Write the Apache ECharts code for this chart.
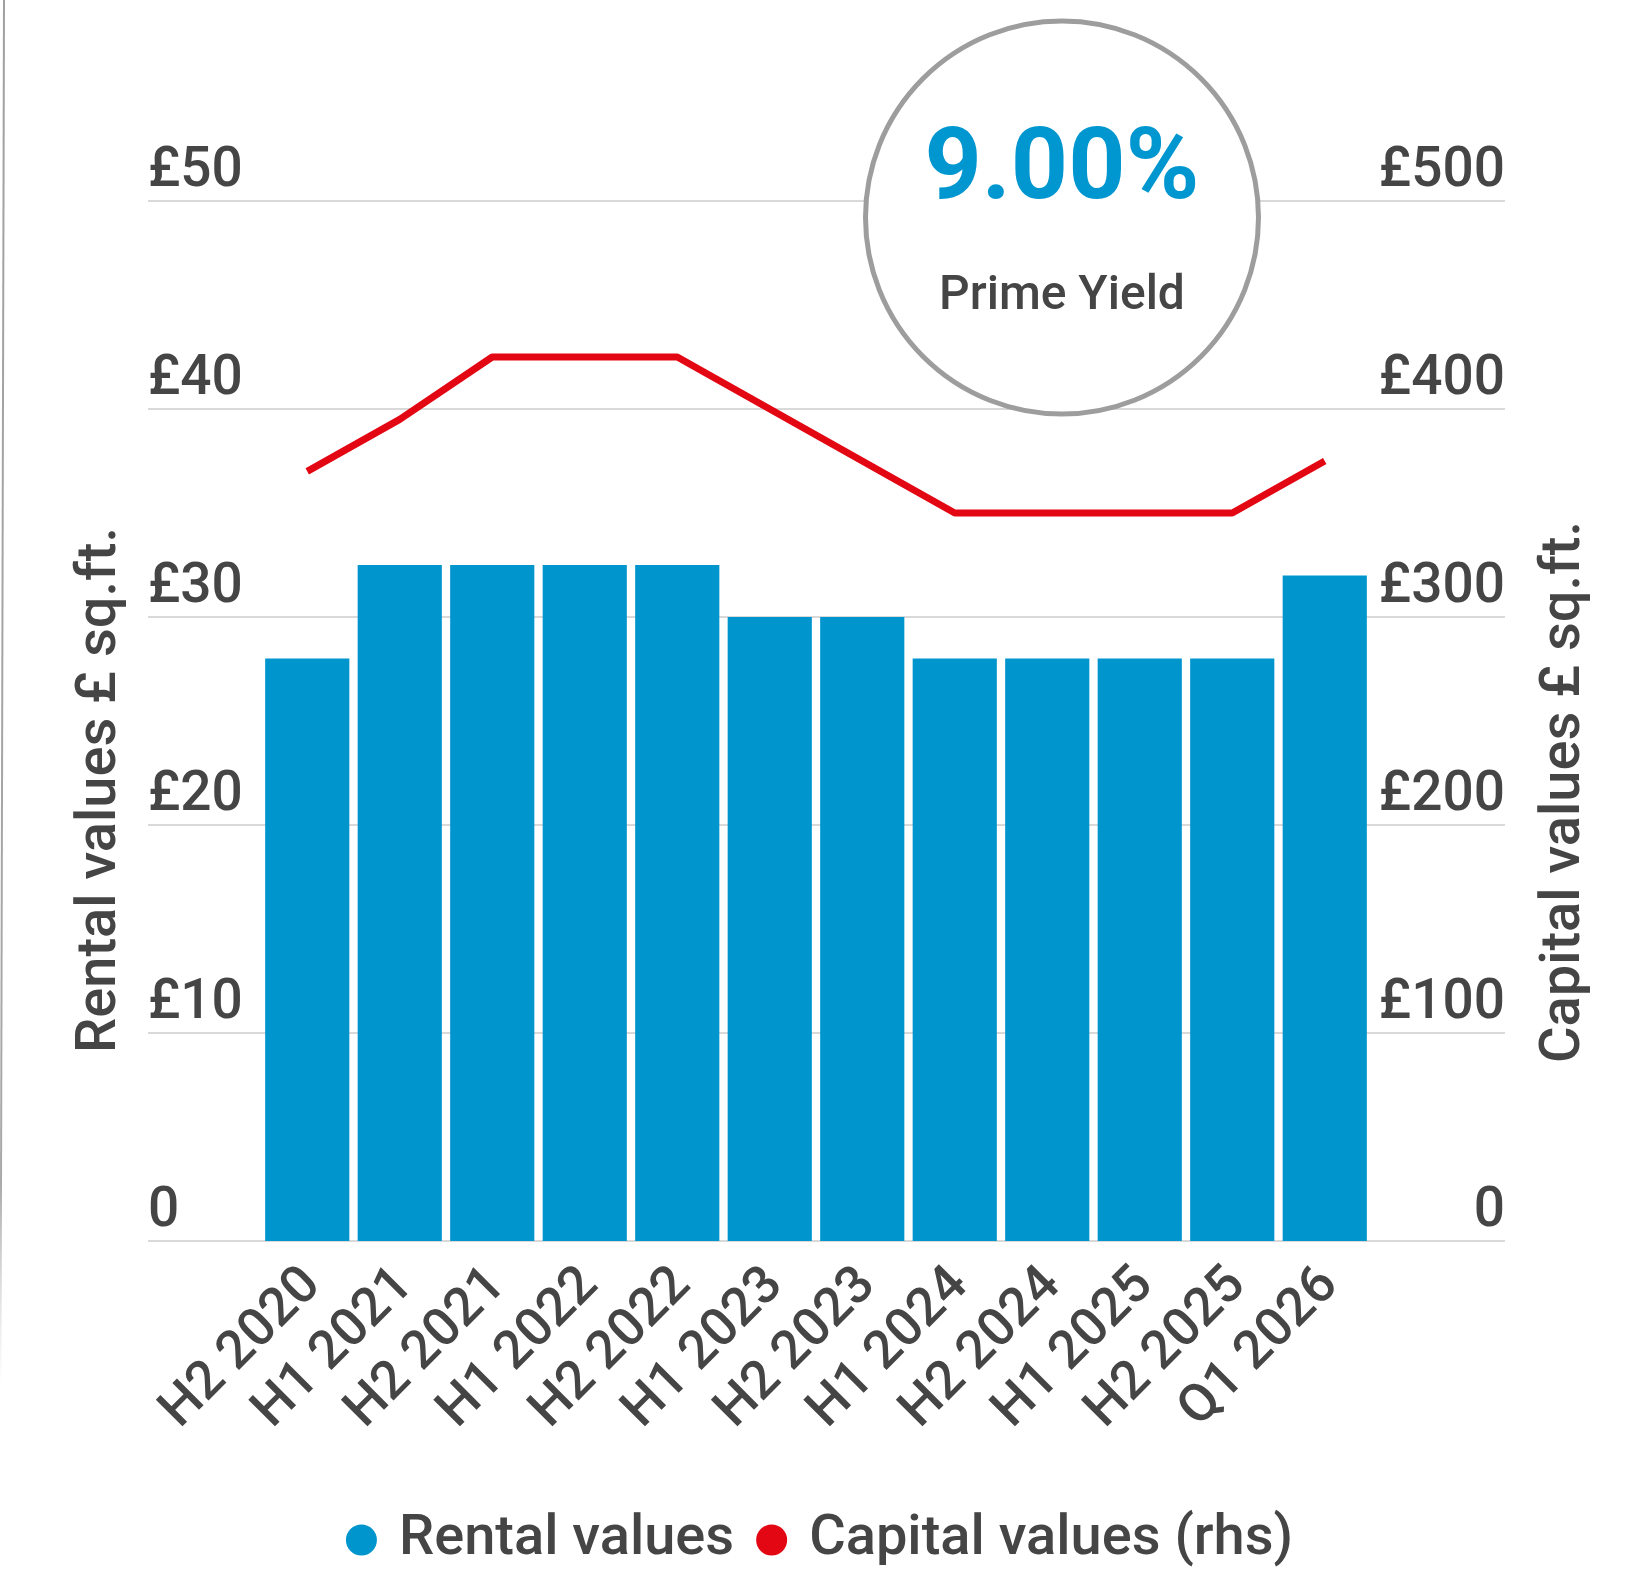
<!DOCTYPE html>
<html>
<head>
<meta charset="utf-8">
<script src="https://cdn.jsdelivr.net/npm/echarts@6/dist/echarts.min.js"></script>
<style>
  html, body { margin: 0; padding: 0; background: #fff; }
  #chart { width: 1639px; height: 1569px; }
</style>
</head>
<body>
<div id="chart"></div>
<script>
// data
const categories = ['H2 2020', 'H1 2021', 'H2 2021', 'H1 2022', 'H2 2022', 'H1 2023',
  'H2 2023', 'H1 2024', 'H2 2024', 'H1 2025', 'H2 2025', 'Q1 2026']
const rentalValues = [28, 32.5, 32.5, 32.5, 32.5, 30, 30, 28, 28, 28, 28, 32]
const capitalValues = [370, 395, 425, 425, 425, 400, 375, 350, 350, 350, 350, 375]
const rentalTicks = [0, 10, 20, 30, 40, 50]
const capitalTicks = [0, 100, 200, 300, 400, 500]
const primeYield = '9.00%'

const textGrey = '#454545'
const blue = '#0096cd'
const red = '#e30613'
const font = 'Roboto'

const fmt = v => (v === 0 ? '0' : '£' + v)

const chart = echarts.init(document.getElementById('chart'))

// grid 0 carries the gridlines and tick labels, grid 1 the bars and line
const gridTop = 201
const gridBottom = 1569 - 1241

const option = {
  animation: false,
  textStyle: { fontFamily: font },
  grid: [
    { left: 148, right: 134, top: gridTop, bottom: gridBottom },
    { left: 261, right: 268, top: gridTop, bottom: gridBottom },
  ],
  xAxis: [
    { type: 'category', gridIndex: 0, data: categories, show: false },
    {
      type: 'category',
      gridIndex: 1,
      data: categories,
      axisLine: { show: false },
      axisTick: { show: false },
      axisLabel: {
        interval: 0,
        rotate: 45,
        margin: 42,
        fontSize: 53,
        fontWeight: 500,
        fontFamily: font,
        color: textGrey,
        padding: [0, -8, 0, 0],
      },
    },
  ],
  yAxis: [
    {
      type: 'value',
      gridIndex: 0,
      position: 'left',
      min: rentalTicks[0],
      max: rentalTicks[rentalTicks.length - 1],
      interval: rentalTicks[1] - rentalTicks[0],
      axisLine: { show: false },
      axisTick: { show: false },
      splitLine: { lineStyle: { color: '#d9d9d9', width: 2 } },
      axisLabel: {
        inside: true,
        margin: 0,
        align: 'left',
        verticalAlign: 'bottom',
        lineHeight: 57,
        fontSize: 55,
        fontWeight: 500,
        fontFamily: font,
        color: textGrey,
        formatter: fmt,
      },
    },
    {
      type: 'value',
      gridIndex: 0,
      position: 'right',
      min: capitalTicks[0],
      max: capitalTicks[capitalTicks.length - 1],
      interval: capitalTicks[1] - capitalTicks[0],
      axisLine: { show: false },
      axisTick: { show: false },
      splitLine: { show: false },
      axisLabel: {
        inside: true,
        margin: 0,
        align: 'right',
        verticalAlign: 'bottom',
        lineHeight: 57,
        fontSize: 55,
        fontWeight: 500,
        fontFamily: font,
        color: textGrey,
        formatter: fmt,
      },
    },
    {
      type: 'value', gridIndex: 1, show: false,
      min: rentalTicks[0], max: rentalTicks[rentalTicks.length - 1],
    },
    {
      type: 'value', gridIndex: 1, show: false, position: 'right',
      min: capitalTicks[0], max: capitalTicks[capitalTicks.length - 1],
    },
  ],
  legend: {
    data: ['Rental values', 'Capital values (rhs)'],
    left: 'center',
    top: 1507,
    icon: 'circle',
    itemWidth: 31,
    itemHeight: 31,
    itemGap: 22,
    textStyle: {
      fontSize: 56,
      fontWeight: 500,
      fontFamily: font,
      color: textGrey,
      padding: [0, 0, 0, 17],
    },
  },
  series: [
    {
      name: 'Rental values',
      type: 'bar',
      xAxisIndex: 1,
      yAxisIndex: 2,
      data: rentalValues,
      barCategoryGap: '9%',
      itemStyle: { color: blue },
    },
    {
      name: 'Capital values (rhs)',
      type: 'line',
      xAxisIndex: 1,
      yAxisIndex: 3,
      data: capitalValues,
      symbol: 'none',
      itemStyle: { color: red },
      lineStyle: { color: red, width: 7 },
      z: 5,
    },
  ],
  graphic: [
    // thin rule at the far left edge
    {
      type: 'line',
      z: 100,
      shape: { x1: 4, y1: 0, x2: 0.5, y2: 1385 },
      style: {
        lineWidth: 2,
        stroke: {
          type: 'linear', x: 0, y: 0, x2: 0, y2: 1,
          colorStops: [
            { offset: 0, color: '#a0a0a0' },
            { offset: 0.85, color: '#a8a8a8' },
            { offset: 1, color: 'rgba(200,200,200,0)' },
          ],
        },
      },
    },
    // prime yield badge
    {
      type: 'circle',
      z: 100,
      shape: { cx: 1062, cy: 217.5, r: 196.5 },
      style: { fill: '#fff', stroke: '#9d9d9d', lineWidth: 5 },
    },
    {
      type: 'text',
      z: 101,
      x: 1062,
      y: 173,
      style: {
        text: primeYield,
        fontSize: 100,
        fontWeight: 'bold',
        fontFamily: font,
        fill: '#0096d0',
        align: 'center',
        verticalAlign: 'middle',
      },
    },
    {
      type: 'text',
      z: 101,
      x: 1062,
      y: 297,
      style: {
        text: 'Prime Yield',
        fontSize: 48,
        fontWeight: 500,
        fontFamily: font,
        fill: textGrey,
        align: 'center',
        verticalAlign: 'middle',
      },
    },
    // axis titles
    {
      type: 'text',
      z: 101,
      x: 101,
      y: 790,
      rotation: Math.PI / 2,
      style: {
        text: 'Rental values £ sq.ft.',
        fontSize: 56,
        fontWeight: 500,
        fontFamily: font,
        fill: textGrey,
        align: 'center',
        verticalAlign: 'middle',
      },
    },
    {
      type: 'text',
      z: 101,
      x: 1565,
      y: 792,
      rotation: Math.PI / 2,
      style: {
        text: 'Capital values £ sq.ft.',
        fontSize: 56,
        fontWeight: 500,
        fontFamily: font,
        fill: textGrey,
        align: 'center',
        verticalAlign: 'middle',
      },
    },
  ],
}

chart.setOption(option)

window.addEventListener('resize', () => chart.resize())
</script>
</body>
</html>
